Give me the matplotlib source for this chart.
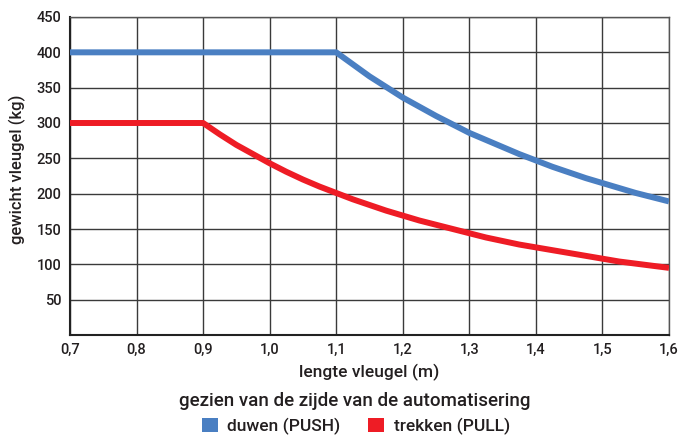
import matplotlib
matplotlib.use("Agg")
import matplotlib.pyplot as plt
from matplotlib.patches import Patch

# Data
push_x = [0.70, 1.100, 1.125, 1.150, 1.175, 1.200, 1.225, 1.250, 1.275, 1.300, 1.325, 1.350,
          1.375, 1.400, 1.425, 1.450, 1.475, 1.500, 1.525, 1.550, 1.575, 1.600]
push_y = [400, 400, 383, 366, 351, 336, 323, 310, 298, 286, 276, 266,
          256, 247, 238, 230, 222, 215, 208, 201, 195, 189]
pull_x = [0.70, 0.900, 0.925, 0.950, 0.975, 1.000, 1.025, 1.050, 1.075, 1.100, 1.125, 1.150,
          1.175, 1.200, 1.225, 1.250, 1.275, 1.300, 1.325, 1.350, 1.375, 1.400, 1.425,
          1.450, 1.475, 1.500, 1.525, 1.550, 1.575, 1.600]
pull_y = [300, 300, 284, 269, 256, 243, 231, 220, 210, 201, 192, 184,
          176, 169, 162, 156, 150, 144, 138, 133, 128, 124, 120,
          116, 112, 108, 104, 101, 98, 95]
x_ticks = [0.7, 0.8, 0.9, 1.0, 1.1, 1.2, 1.3, 1.4, 1.5, 1.6]
x_tick_labels = ["0,7", "0,8", "0,9", "1,0", "1,1", "1,2", "1,3", "1,4", "1,5", "1,6"]
y_ticks = [50, 100, 150, 200, 250, 300, 350, 400, 450]
labels = ["duwen (PUSH)", "trekken (PULL)"]

BLUE = "#4a7fc2"
RED = "#ee1c25"
TXT = "#231f20"

plt.rcParams['font.family'] = ['Roboto', 'DejaVu Sans']
plt.rcParams['font.weight'] = 'medium'

fig = plt.figure(figsize=(6.84, 4.36), dpi=100)
ax = fig.add_axes([70/684, 1-335/436, (669-70)/684, (335-17)/436])

ax.plot(push_x, push_y, color=BLUE, lw=4.3, solid_capstyle='butt', solid_joinstyle='round', zorder=3)
ax.plot(pull_x, pull_y, color=RED, lw=4.3, solid_capstyle='butt', solid_joinstyle='round', zorder=3)

ax.set_xlim(0.7, 1.6)
ax.set_ylim(0, 450)
ax.set_xticks(x_ticks)
ax.set_xticklabels(x_tick_labels)
ax.set_yticks(y_ticks)
ax.grid(True, color="#3a3a3a", lw=1.0, zorder=1)
ax.tick_params(length=0, labelsize=10.5, labelcolor=TXT, pad=6)
for s in ['top', 'right']:
    ax.spines[s].set_color("#555555")
    ax.spines[s].set_linewidth(1.0)
for s in ['left', 'bottom']:
    ax.spines[s].set_color("#222222")
    ax.spines[s].set_linewidth(1.5)

fig.text(17/684, 1-169/436, "gewicht vleugel (kg)", rotation=90, ha='center', va='center',
         fontsize=12, color=TXT)
fig.text((70+669)/2/684, 1-372/436, "lengte vleugel (m)", ha='center', va='center', fontsize=12.5, color=TXT)
fig.text(355/684, 1-401/436, "gezien van de zijde van de automatisering", ha='center', va='center',
         fontsize=13.5, color=TXT)

handles = [Patch(facecolor=BLUE, edgecolor='none'), Patch(facecolor=RED, edgecolor='none')]
fig.legend(handles, labels, loc='center', bbox_to_anchor=(356/684, 1-426/436), ncol=2, frameon=False,
           fontsize=12.5, handlelength=0.9, handleheight=0.9, handletextpad=0.55, columnspacing=1.6,
           labelcolor=TXT, borderpad=0, borderaxespad=0)

fig.savefig("out.png", dpi=100)
